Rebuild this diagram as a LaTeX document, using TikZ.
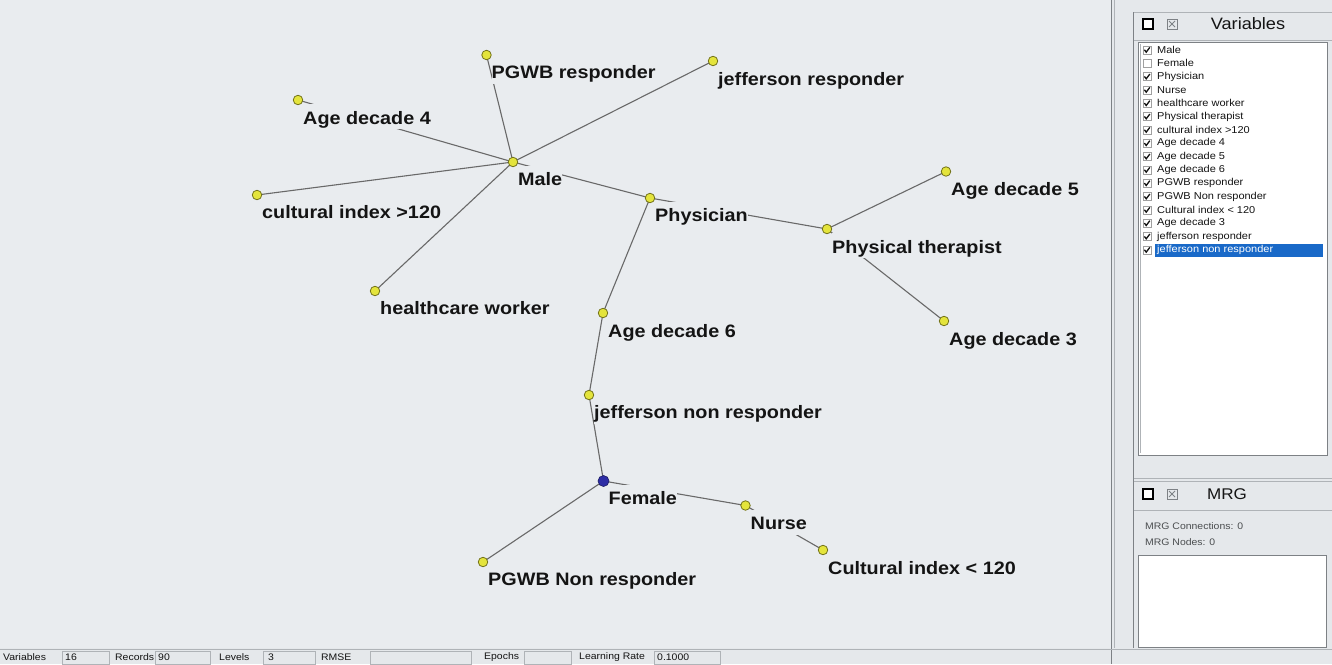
\documentclass[tikz,border=0pt]{standalone}
\usepackage{fontspec}
\setmainfont{Liberation Sans}[FakeStretch=1.1]
\usetikzlibrary{calc}
\pgfdeclarelayer{bg}
\pgfdeclarelayer{edgelayer}
\pgfsetlayers{bg,edgelayer,main}
\definecolor{canvas}{RGB}{233,236,239}
\definecolor{panel}{RGB}{229,232,235}
\definecolor{edgecol}{RGB}{105,105,105}
\definecolor{dotfill}{RGB}{228,228,60}
\definecolor{dotline}{RGB}{115,115,25}
\definecolor{bluedot}{RGB}{45,45,165}
\definecolor{sepline}{RGB}{175,179,183}
\definecolor{darksep}{RGB}{125,129,133}
\definecolor{hilite}{RGB}{25,105,200}
\definecolor{txt}{RGB}{20,20,20}
\definecolor{boxgrey}{RGB}{160,160,160}
\begin{document}
\begin{tikzpicture}[x=1pt,y=-1pt,
  dot/.style={circle,draw=dotline,fill=dotfill,inner sep=0pt,minimum size=9.5pt,line width=0.8pt},
  fdot/.style={circle,draw=bluedot!60!black,fill=bluedot,inner sep=0pt,minimum size=11pt,line width=0.6pt},
  edge/.style={draw=edgecol,line width=1.1pt},
  lab/.style={fill=canvas,inner xsep=0pt,inner ysep=1pt,text height=19pt,text depth=4pt,
    anchor=base west,text=txt,font=\fontsize{18}{20}\selectfont\bfseries},
  small/.style={inner sep=0pt,anchor=west,text=txt,font=\fontsize{10}{12}\selectfont},
  status/.style={inner sep=0pt,anchor=west,text=txt,font=\fontsize{9.5}{11}\selectfont},
  field/.style={draw=sepline,fill=panel,line width=0.7pt},
  tickbox/.pic={\draw[draw=boxgrey,fill=white,line width=0.5pt] (-4,-4) rectangle (4,4);
                \draw[line width=1.3pt,txt] (-2.6,-0.2) -- (-0.8,2.2) -- (2.8,-2.6);},
  emptybox/.pic={\draw[draw=boxgrey,fill=white,line width=0.5pt] (-4,-4) rectangle (4,4);},
  hdrbox/.pic={\draw[draw=black,line width=1.6pt,fill=white] (-5,-5) rectangle (5,5);},
  hdrxbox/.pic={\draw[draw=darksep,line width=1pt,fill=panel] (-5,-5) rectangle (5,5);
                \draw[darksep,line width=0.8pt] (-3,-3) -- (3,3) (-3,3) -- (3,-3);}
]
\useasboundingbox (0,0) rectangle (1332,664);
\begin{pgfonlayer}{bg}
  \fill[canvas] (0,0) rectangle (1111,648);
  \fill[panel] (1111,0) rectangle (1332,664);
  \fill[panel] (0,648) rectangle (1111,664);
\end{pgfonlayer}

% ---------- graph nodes (dots)
\node[dot] (age4)   at (298,100)   {};
\node[dot] (pgwbr)  at (486.5,55)  {};
\node[dot] (jr)     at (713,61)    {};
\node[dot] (male)   at (513,162)   {};
\node[dot] (cult)   at (257,195)   {};
\node[dot] (hcw)    at (375,291)   {};
\node[dot] (phys)   at (650,198)   {};
\node[dot] (pt)     at (827,229)   {};
\node[dot] (age5)   at (946,171.5) {};
\node[dot] (age3)   at (944,321)   {};
\node[dot] (age6)   at (603,313)   {};
\node[dot] (jnr)    at (589,395)   {};
\node[fdot] (female) at (603.5,481) {};
\node[dot] (nurse)  at (745.5,505.5) {};
\node[dot] (cultl)  at (823,550)   {};
\node[dot] (pgwbn)  at (483,562)   {};

% ---------- connectors
\begin{pgfonlayer}{edgelayer}
  \draw[edge] (male.center) -- (age4.center);
  \draw[edge] (male.center) -- (pgwbr.center);
  \draw[edge] (male.center) -- (jr.center);
  \draw[edge] (male.center) -- (cult.center);
  \draw[edge] (male.center) -- (hcw.center);
  \draw[edge] (male.center) -- (phys.center);
  \draw[edge] (phys.center) -- (pt.center);
  \draw[edge] (pt.center) -- (age5.center);
  \draw[edge] (pt.center) -- (age3.center);
  \draw[edge] (phys.center) -- (age6.center);
  \draw[edge] (age6.center) -- (jnr.center);
  \draw[edge] (jnr.center) -- (female.center);
  \draw[edge] (female.center) -- (pgwbn.center);
  \draw[edge] (female.center) -- (nurse.center);
  \draw[edge] (nurse.center) -- (cultl.center);
\end{pgfonlayer}

% ---------- labels (opaque, hide the lines beneath)
\node[lab] (age4L)   at ($(age4)+(5,24)$)   {Age decade 4};
\node[lab] (pgwbrL)  at ($(pgwbr)+(5,23.5)$) {PGWB responder};
\node[lab] (jrL)     at ($(jr)+(5,24)$)     {jefferson responder};
\node[lab] (maleL)   at ($(male)+(5,23.5)$) {Male};
\node[lab] (cultL)   at ($(cult)+(5,23.5)$) {cultural index >120};
\node[lab] (hcwL)    at ($(hcw)+(5,23.5)$)  {healthcare worker};
\node[lab] (physL)   at ($(phys)+(5,23.5)$) {Physician};
\node[lab] (ptL)     at ($(pt)+(5,24)$)     {Physical therapist};
\node[lab] (age5L)   at ($(age5)+(5,24)$)   {Age decade 5};
\node[lab] (age3L)   at ($(age3)+(5,24)$)   {Age decade 3};
\node[lab] (age6L)   at ($(age6)+(5,24)$)   {Age decade 6};
\node[lab] (jnrL)    at ($(jnr)+(5,23.5)$)  {jefferson non responder};
\node[lab] (femaleL) at ($(female)+(5,23.5)$) {Female};
\node[lab] (nurseL)  at ($(nurse)+(5,24)$)  {Nurse};
\node[lab] (cultlL)  at ($(cultl)+(5,24)$)  {Cultural index < 120};
\node[lab] (pgwbnL)  at ($(pgwbn)+(5,23.5)$) {PGWB Non responder};

% ---------- right panel frame
\draw[darksep,line width=0.8pt] (1111,0) -- (1111,664);
\draw[sepline,line width=0.8pt] (1114,0) -- (1114,648);
\draw[darksep,line width=0.7pt] (1133.5,12) -- (1133.5,648);
\draw[sepline,line width=0.7pt] (1133.5,12) -- (1332,12);
\draw[sepline,line width=0.7pt] (1133.5,40) -- (1332,40);
\pic at (1148,24) {hdrbox};
\pic at (1172,24) {hdrxbox};
\node[inner sep=0pt,text=txt,font=\fontsize{16.5}{18}\selectfont] (varT) at (1248,24) {Variables};

\filldraw[fill=white,draw=darksep,line width=0.8pt] (1138,42) rectangle (1327,455);
\draw[sepline,line width=0.7pt] (1140,44) -- (1140,453);
\fill[hilite] (1155,244) rectangle (1323,256.5);
\foreach [count=\i] \t/\c in {Male/1,Female/0,Physician/1,Nurse/1,healthcare worker/1,
   Physical therapist/1,cultural index >120/1,Age decade 4/1,Age decade 5/1,Age decade 6/1,
   PGWB responder/1,PGWB Non responder/1,Cultural index < 120/1,Age decade 3/1,
   jefferson responder/1,jefferson non responder/1}{
  \pgfmathsetmacro{\yy}{50+13.33*(\i-1)}
  \ifnum\c=1 \pic at (1147,\yy) {tickbox}; \else \pic at (1147,\yy) {emptybox}; \fi
  \ifnum\i=16
    \node[small,text=white] (item\i) at (1157,\yy) {\t};
  \else
    \node[small] (item\i) at (1157,\yy) {\t};
  \fi
}

\draw[sepline,line width=0.7pt] (1133.5,478) -- (1332,478);
\draw[sepline,line width=0.7pt] (1133.5,481) -- (1332,481);
\pic at (1148,494) {hdrbox};
\pic at (1172,494) {hdrxbox};
\node[inner sep=0pt,text=txt,font=\fontsize{15.5}{17}\selectfont] (mrgT) at (1227,494) {MRG};
\draw[sepline,line width=0.7pt] (1133.5,510) -- (1332,510);
\node[small,font=\fontsize{9.5}{11}\selectfont,text=darksep!60!black] (mrgC) at (1145,526) {MRG Connections: 0};
\node[small,font=\fontsize{9.5}{11}\selectfont,text=darksep!60!black] (mrgN) at (1145,542) {MRG Nodes: 0};
\filldraw[fill=white,draw=darksep,line width=0.8pt] (1138,555) rectangle (1326,647);

% ---------- status bar
\draw[sepline,line width=0.7pt] (0,649) -- (1332,649);
\draw[field] (62,651) rectangle (109,664);
\draw[field] (155,651) rectangle (210,664);
\draw[field] (263,651) rectangle (315,664);
\draw[field] (370,651) rectangle (471,664);
\draw[field] (524,651) rectangle (571,664);
\draw[field] (654,651) rectangle (720,664);
\node[status] (sVar)  at (3,657.5)   {Variables};
\node[status] (sVarV) at (65,657.5)  {16};
\node[status] (sRec)  at (115,657.5) {Records};
\node[status] (sRecV) at (158,657.5) {90};
\node[status] (sLev)  at (219,657.5) {Levels};
\node[status] (sLevV) at (268,657.5) {3};
\node[status] (sRms)  at (321,657.5) {RMSE};
\node[status] (sEp)   at (484,657.5) {Epochs};
\node[status] (sLr)   at (579,657.5) {Learning Rate};
\node[status] (sLrV)  at (657,657.5) {0.1000};
\end{tikzpicture}
\end{document}
